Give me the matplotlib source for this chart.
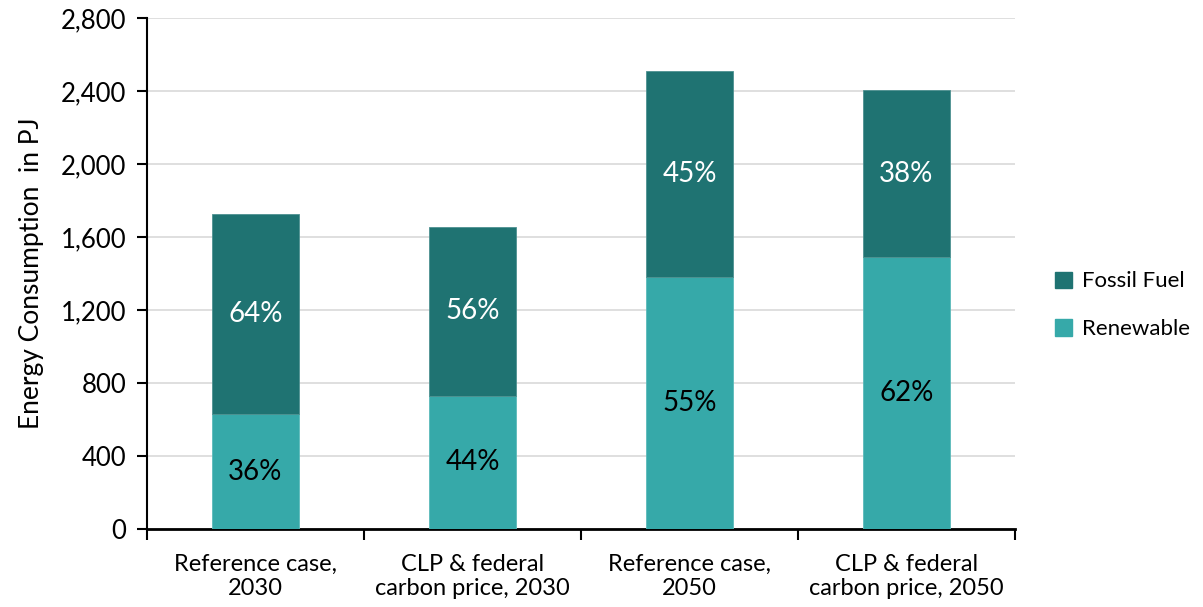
import numpy as np
import matplotlib.pyplot as plt
from matplotlib.patches import Patch

plt.rcParams['font.family'] = ['Lato', 'DejaVu Sans']

# Datos
categorias = ['Reference case,\n2030', 'CLP & federal\ncarbon price, 2030',
              'Reference case,\n2050', 'CLP & federal\ncarbon price, 2050']
renovable = [628, 730, 1382, 1492]
fosil = [1098, 925, 1129, 912]
pct_renovable = ['36%', '44%', '55%', '62%']
pct_fosil = ['64%', '56%', '45%', '38%']

color_fosil = '#1F7372'
color_renovable = '#36A9A9'

fig = plt.figure(figsize=(12.03, 6.07), dpi=100)
ax = fig.add_axes([0.1222, 0.1285, 0.7215, 0.8418])

x = np.arange(len(categorias))
ax.bar(x, renovable, width=0.4, color=color_renovable, edgecolor='#5BBABA', linewidth=0.6, zorder=3)
ax.bar(x, fosil, width=0.4, bottom=renovable, color=color_fosil, edgecolor='#4E9191', linewidth=0.6, zorder=3)

for i in range(len(x)):
    ax.text(x[i], renovable[i] / 2, pct_renovable[i], ha='center', va='center',
            fontsize=20, color='black', zorder=4)
    ax.text(x[i], renovable[i] + fosil[i] / 2, pct_fosil[i], ha='center', va='center',
            fontsize=20, color='white', zorder=4)

ax.set_xlim(-0.5, len(x) - 0.5)
ax.set_ylim(0, 2800)
ax.set_yticks(np.arange(0, 2801, 400))
ax.set_yticklabels([f'{v:,}' for v in range(0, 2801, 400)], fontsize=18.5)
ax.yaxis.grid(True, color='#D9D9D9', linewidth=1.2, zorder=0)

ax.set_xticks(x)
ax.set_xticklabels(categorias, fontsize=17, linespacing=1.2)
ax.tick_params(axis='x', length=0, pad=18)
ax.set_xticks(np.arange(-0.5, len(x), 1), minor=True)
ax.tick_params(axis='x', which='minor', length=8, width=1.5, direction='out')
ax.tick_params(axis='y', length=7, width=1.5, direction='out', pad=8)

for lado in ['top', 'right']:
    ax.spines[lado].set_visible(False)
ax.spines['left'].set_linewidth(1.5)
ax.spines['bottom'].set_linewidth(2)

ax.set_ylabel('Energy Consumption  in PJ', fontsize=19, labelpad=12)

handles = [Patch(color=color_fosil, label='Fossil Fuel'),
           Patch(color=color_renovable, label='Renewable')]
fig.legend(handles=handles, loc='center left', bbox_to_anchor=(0.877, 0.497),
           frameon=False, fontsize=16, handlelength=0.75, handleheight=0.75,
           handletextpad=0.45, labelspacing=1.25, borderpad=0, borderaxespad=0)

fig.savefig('out.png', dpi=100)
